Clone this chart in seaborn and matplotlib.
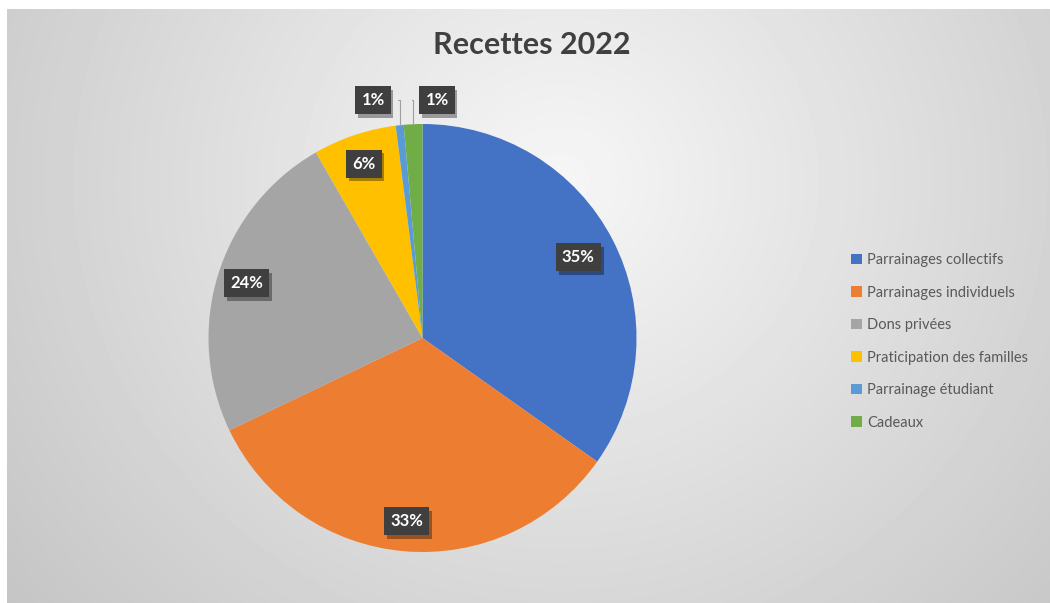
import numpy as np
import matplotlib
matplotlib.use("Agg")
import matplotlib.pyplot as plt
import matplotlib.patheffects as pe
import seaborn as sns

# data
categories = ["Parrainages collectifs", "Parrainages individuels", "Dons privées",
              "Praticipation des familles", "Parrainage étudiant", "Cadeaux"]
shares = [34.8, 33.1, 23.8, 6.3, 0.6, 1.4]
colors = ["#4472C4", "#ED7D31", "#A5A5A5", "#FFC000", "#5B9BD5", "#70AD47"]
title = "Recettes 2022"

sns.set_theme(style="white")
plt.rcParams["font.family"] = ["Lato", "DejaVu Sans"]

W, H = 1050, 603
fig = plt.figure(figsize=(W / 100, H / 100), dpi=100)
fig.patch.set_facecolor("white")

# radial grey background of the chart area
bg = fig.add_axes([7 / W, 0, 1 - 7 / W, 1 - 9 / H], zorder=0)
yy, xx = np.mgrid[9:H, 7:W]
d = np.hypot(xx - 560, (yy - 180) * 1.05)
shade = np.clip(0.965 - 0.19 * d / 696, 0.75, 1)
bg.imshow(shade, cmap="gray", vmin=0, vmax=1, aspect="auto", interpolation="bilinear")
bg.axis("off")

# pie axes, centre (422.5, 338) px, radius 214 px
cx, cy, R = 422.5, 338, 214
ax = fig.add_axes([(cx - R) / W, (H - cy - R) / H, 2 * R / W, 2 * R / H], zorder=1)
wedges, _ = ax.pie(shares, colors=colors, startangle=90, counterclock=False,
                   wedgeprops=dict(linewidth=0))
ax.set_xlim(-1, 1)
ax.set_ylim(-1, 1)
ax.axis("off")

shadow = [pe.SimplePatchShadow(offset=(2, -2.5), shadow_rgbFace="black", alpha=0.35),
          pe.Normal()]

def label(x, y, txt):
    t = ax.text(x, y, txt, ha="center", va="center", fontsize=12, fontweight="bold",
                color="white",
                bbox=dict(boxstyle="square,pad=0.36", fc="#3f3f3f", ec="none"))
    t.get_bbox_patch().set_path_effects(shadow)

inside_r = [0.82, 0.86, 0.86, 0.86]
for w, v, r in zip(wedges[:4], shares[:4], inside_r):
    mid = np.deg2rad((w.theta1 + w.theta2) / 2)
    label(r * np.cos(mid), r * np.sin(mid), f"{v:.0f}%")

# the two small slices get outside labels with leader lines
outside_pos = [(-0.231, 1.112), (0.068, 1.112)]
for w, v, (tx, ty) in zip(wedges[4:], shares[4:], outside_pos):
    mid = np.deg2rad((w.theta1 + w.theta2) / 2)
    px, py = np.cos(mid), np.sin(mid)
    ax.annotate("", xy=(px, py), xytext=(tx + (0.118 if tx < 0 else -0.118), ty),
                arrowprops=dict(arrowstyle="-", color="#a0a0a0", lw=0.8,
                                connectionstyle="angle,angleA=0,angleB=90,rad=0",
                                shrinkA=0, shrinkB=0))
    label(tx, ty, f"{v:.0f}%")

fig.text(532 / W, 1 - 45 / H, title, ha="center", va="center", fontsize=22,
         fontweight="bold", color="#404040")

leg = fig.legend(wedges, categories, loc="upper left",
                 bbox_to_anchor=(838 / W, 1 - 240 / H), frameon=False,
                 fontsize=10.5, labelcolor="#595959", handlelength=0.75,
                 handleheight=0.75, handletextpad=0.35, labelspacing=1.27)

fig.savefig("out.png", dpi=100)
